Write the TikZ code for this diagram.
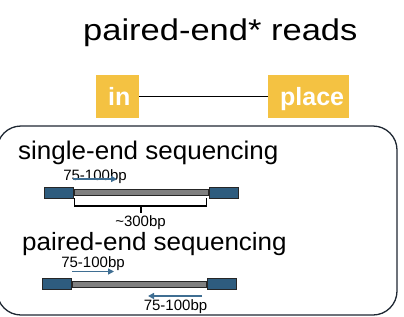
\documentclass[tikz,border=0pt]{standalone}
\usepackage{fontspec}
\setmainfont{Liberation Sans}
\newfontfamily\titlefont[FakeStretch=1.15]{Liberation Sans}
\newfontfamily\headfont[FakeStretch=1.02]{Liberation Sans}
\newfontfamily\headfontb[FakeStretch=1.04]{Liberation Sans}
\usetikzlibrary{arrows.meta}
\definecolor{gold}{HTML}{F4C242}
\definecolor{blk}{HTML}{2E5C7E}
\definecolor{arr}{HTML}{3F6E92}
\definecolor{barc}{HTML}{808080}
\definecolor{frame}{HTML}{1E2732}
\begin{document}
\begin{tikzpicture}[x=1pt,y=-1pt,
  lab/.style={inner sep=0pt,anchor=base west},
  tagbox/.style={fill=gold,inner sep=0pt,minimum height=43pt},
  tagtext/.style={text=white,font=\fontsize{25}{25}\bfseries\selectfont,inner sep=0pt,anchor=base west},
  endblk/.style={draw=black!85,fill=blk,line width=0.9pt,minimum width=29pt,minimum height=11pt,inner sep=0pt},
  barseg/.style={draw=black!85,fill=barc,line width=1pt,minimum width=134pt,minimum height=6pt,inner sep=0pt},
  readarrow/.style={draw=arr,line width=1.6pt,-{Triangle[length=6pt,width=6pt]}},
  small/.style={font=\fontsize{15}{15}\selectfont,inner sep=0pt,anchor=base}]
\useasboundingbox (0,0) rectangle (404,316);
% title
\node[anchor=base west,font=\fontsize{30}{30}\titlefont,inner sep=0pt] (title) at (83,40.5) {paired-end* reads};
% tags
\node[tagbox,minimum width=43pt] (in) at (117.5,96.5) {};
\node[tagbox,minimum width=81pt] (place) at (308.5,96.5) {};
\node[tagtext] (intext) at (108,105) {in};
\node[tagtext] (placetext) at (280,105) {place};
\draw[line width=1pt] (in) -- (place);
% frame
\draw[line width=1.3pt,draw=frame,rounded corners=24pt] (-3,126) rectangle (397,315);
% single-end
\node[lab,font=\fontsize{25.5}{25.5}\headfont] (se) at (18,159.5) {single-end sequencing};
\node[small] (se75) at (95,180.5) {75-100bp};
\coordinate (a1s) at (73,179);
\coordinate (a1e) at (117,179);
\draw[readarrow] (a1s) -- (a1e);
\node[barseg] (bar1) at (141,192.5) {};
\node[endblk,anchor=east] (l1) at (bar1.west) {};
\node[endblk,anchor=west] (r1) at (bar1.east) {};
\coordinate (b1l) at ([xshift=1pt,yshift=-2pt]bar1.south west);
\coordinate (b1r) at ([xshift=-2pt,yshift=-2pt]bar1.south east);
\draw[line width=1.3pt] (b1l) -- ++(0,8) coordinate (b1a) -- (b1a -| b1r) -- (b1r);
\coordinate (tk) at ([yshift=-10pt]bar1.south);
\draw[line width=1.3pt] (tk) -- ++(0,7);
\node[small] (d300) at (140.5,226) {\textasciitilde 300bp};
% paired-end
\node[lab,font=\fontsize{25}{25}\headfontb] (pe) at (22,250) {paired-end sequencing};
\node[small] (pe75a) at (93,267.5) {75-100bp};
\coordinate (a2s) at (72,271.5);
\coordinate (a2e) at (114,271.5);
\draw[readarrow] (a2s) -- (a2e);
\node[barseg] (bar2) at (139,284) {};
\node[endblk,anchor=east] (l2) at (bar2.west) {};
\node[endblk,anchor=west] (r2) at (bar2.east) {};
\coordinate (a3s) at (202,296);
\coordinate (a3e) at (148,296);
\draw[readarrow] (a3s) -- (a3e);
\node[small] (pe75b) at (175.5,310) {75-100bp};
\end{tikzpicture}
\end{document}
